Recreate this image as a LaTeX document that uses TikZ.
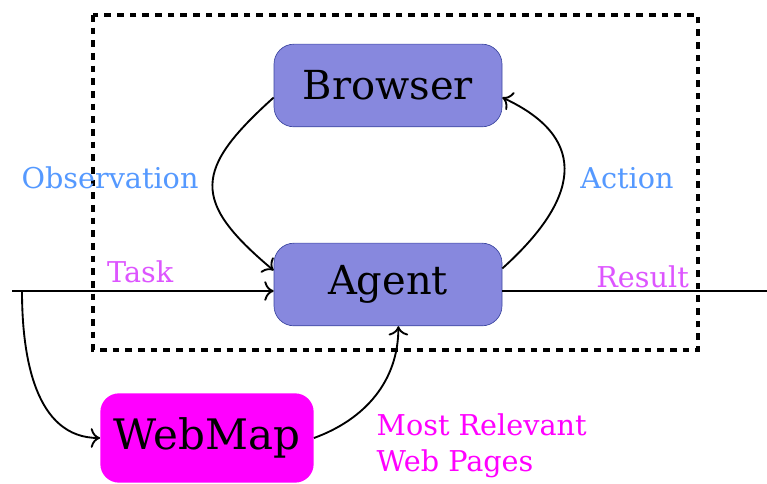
\documentclass[tikz,border=0pt]{standalone}
\usepackage{fontspec}
\setmainfont{DejaVu Serif}
\usetikzlibrary{arrows.meta,positioning}
\definecolor{boxblue}{RGB}{135,136,222}
\definecolor{edgeblue}{RGB}{60,70,160}
\definecolor{labblue}{RGB}{85,153,255}
\definecolor{labviolet}{RGB}{221,85,255}
\definecolor{webpink}{RGB}{255,0,255}
\begin{document}
\begin{tikzpicture}[x=0.75pt, y=-0.75pt,
		block/.style={rectangle, rounded corners=15pt, draw=edgeblue, line width=0.5pt, fill=boxblue, minimum width=171pt, minimum height=62pt, font=\fontsize{30}{34}\selectfont},
		flow/.style={-{To[scale=1.5]}, line width=1.4pt},
		lab/.style={font=\fontsize{21.5}{27}\selectfont}]
		\useasboundingbox (0,0) rectangle (767,484);
		\draw[line width=2.3pt, dash pattern=on 5pt off 4.5pt] (93,15) rectangle (698,350);
		\node[block] (1) at (388,85.5){Browser};
		\node[block] (2) at (388,284.5){Agent};
		\node[rectangle, rounded corners=14pt, fill=webpink, minimum width=160pt, minimum height=67pt, font=\fontsize{31.5}{36}\selectfont] (3) at (207,438){WebMap};
		\coordinate (4) at (12,291);
		\coordinate (5) at (22,291);
		\coordinate (6) at (767,291);
		\draw[flow] (1.186) to[out=222, in=140, looseness=1.6] (2.173);
		\draw[flow] (2.8) to[out=42, in=-25, looseness=1.5] (1.-6);
		\draw[flow] (4)--(4 -| 2.west) node[lab, midway, above, text=labviolet, xshift=-2pt, yshift=2pt] {Task};
		\draw[line width=1.4pt] (6 -| 2.east)--(6) node[lab, pos=0.53, above, text=labviolet, yshift=-1.5pt] {Result};
		\draw[flow] (5) to[out=-90, in=180] (3.west);
		\draw[flow] (3.east) to[out=20, in=-90] (2.-76);
		\node[lab, text=labblue] (7) at (110,178) {Observation};
		\node[lab, text=labblue] (8) at (627,178) {Action};
		\node[lab, text=webpink, anchor=west, align=left] (9) at (372,446) {Most Relevant\\Web Pages};
	\end{tikzpicture}
\end{document}
